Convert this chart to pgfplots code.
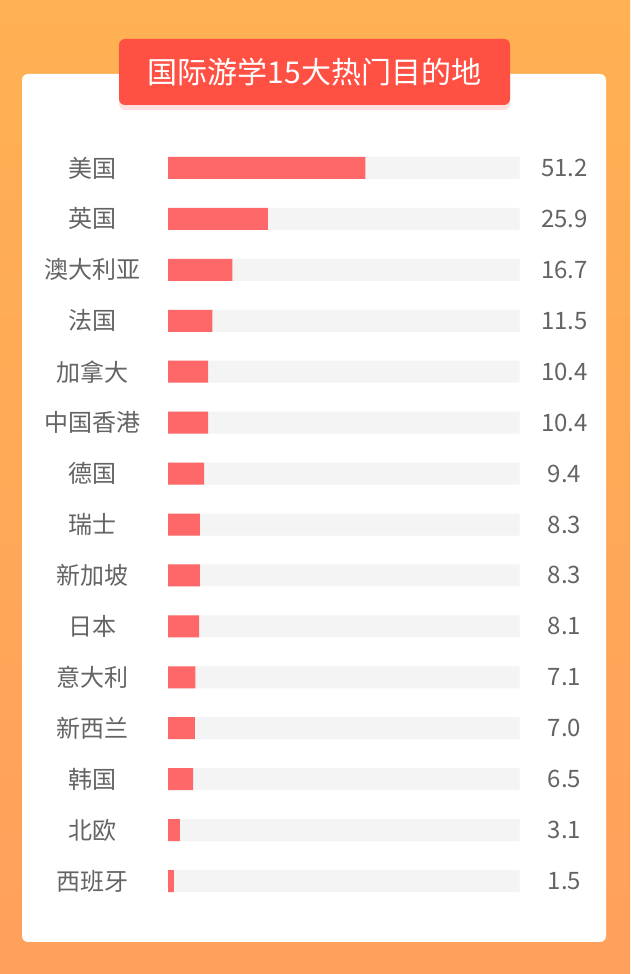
\documentclass[border=0pt]{standalone}
\usepackage{fontspec}
\setmainfont{Noto Sans CJK SC}
\usepackage{pgfplots}
\usepackage{pgfplotstable}
\pgfplotsset{compat=1.18}
\usetikzlibrary{shadows}

\definecolor{bgtop}{RGB}{255,177,83}
\definecolor{bgbot}{RGB}{255,160,92}
\definecolor{titlered}{RGB}{255,80,68}
\definecolor{barred}{RGB}{255,104,104}
\definecolor{track}{RGB}{244,244,244}
\definecolor{labgray}{RGB}{100,100,100}

% idx, value, track length, name
\pgfplotstableread{
idx val trk name
0  51.2 91.2 美国
1  25.9 91.2 英国
2  16.7 91.2 澳大利亚
3  11.5 91.2 法国
4  10.4 91.2 加拿大
5  10.4 91.2 中国香港
6  9.4  91.2 德国
7  8.3  91.2 瑞士
8  8.3  91.2 新加坡
9  8.1  91.2 日本
10 7.1  91.2 意大利
11 7.0  91.2 新西兰
12 6.5  91.2 韩国
13 3.1  91.2 北欧
14 1.5  91.2 西班牙
}\data

\begin{document}
\begin{tikzpicture}[x=1pt,y=1pt]
% background and card
\shade[top color=bgtop, bottom color=bgbot] (0,0) rectangle (630,974);
\fill[white, rounded corners=6pt] (22,32) rectangle (606,900);

\begin{axis}[
    at={(168pt,67.5pt)}, anchor=south west,
    scale only axis, width=351.5pt, height=764pt,
    xmin=0, xmax=91.2, ymin=-0.5, ymax=14.5,
    y dir=reverse,
    xbar, bar width=22pt, bar shift=0pt,
    axis line style={draw=none},
    tick style={draw=none},
    xtick=\empty,
    ytick={0,...,14},
    yticklabels from table={\data}{name},
    yticklabel style={anchor=center, xshift=-71pt,
        font=\fontsize{24}{28}\selectfont, text=labgray},
    clip=false,
]
\addplot[draw=none, fill=track, point meta=explicit symbolic,
    nodes near coords,
    every node near coord/.append style={anchor=center, xshift=45pt,
        font=\fontsize{24}{28}\selectfont, text=labgray}]
    table[x=trk, y=idx, meta=val] {\data};
\addplot[draw=none, fill=barred] table[x=val, y=idx] {\data};
\end{axis}

% title box
\node[fill=titlered, rounded corners=6pt, minimum width=391pt, minimum height=66pt,
    drop shadow={opacity=0.18, fill=titlered, shadow xshift=0pt, shadow yshift=-5pt},
    text=white, font=\fontsize{30}{36}\selectfont]
    at (314.5,902) {国际游学15大热门目的地};
\end{tikzpicture}
\end{document}
